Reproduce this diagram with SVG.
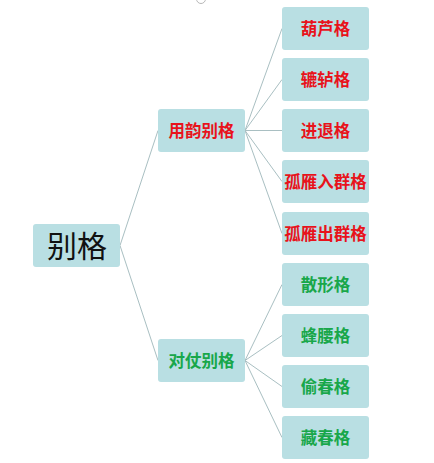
<svg xmlns="http://www.w3.org/2000/svg" width="434" height="463" viewBox="0 0 434 463">
<style>
.box{fill:#b9dfe3;}
.t{font-family:"Noto Sans CJK SC","Liberation Sans",sans-serif;font-size:16.5px;font-weight:bold;text-anchor:middle;dominant-baseline:central;}
.red{fill:#e8131b;}
.green{fill:#18a74a;}
.root{font-family:"Noto Sans CJK SC","Liberation Sans",sans-serif;font-size:30px;fill:#111;text-anchor:middle;dominant-baseline:central;}
.c{stroke:#a9bfc2;stroke-width:1;fill:none;}
</style>
<rect width="434" height="463" fill="#ffffff"/>
<circle cx="201" cy="-1" r="4.5" fill="none" stroke="#b8b8b8" stroke-width="1"/>
<g id="connectors">
<line class="c" x1="120" y1="245.5" x2="158" y2="130.5"/>
<line class="c" x1="120" y1="245.5" x2="158" y2="360.5"/>
<line class="c" x1="245" y1="130.5" x2="282" y2="28.5"/>
<line class="c" x1="245" y1="130.5" x2="282" y2="79.5"/>
<line class="c" x1="245" y1="130.5" x2="282" y2="130.5"/>
<line class="c" x1="245" y1="130.5" x2="282" y2="181.5"/>
<line class="c" x1="245" y1="130.5" x2="282" y2="233.5"/>
<line class="c" x1="245" y1="360.5" x2="282" y2="284.5"/>
<line class="c" x1="245" y1="360.5" x2="282" y2="335.5"/>
<line class="c" x1="245" y1="360.5" x2="282" y2="386.5"/>
<line class="c" x1="245" y1="360.5" x2="282" y2="437.5"/>
</g>
<g id="root"><rect class="box" x="33" y="224" width="87" height="43" rx="3"/><text class="root" x="77" y="244">别格</text></g>
<g id="yongyun"><rect class="box" x="158" y="109" width="87" height="43" rx="3"/><text class="t red" x="201.5" y="129.5">用韵别格</text></g>
<g id="duizhang"><rect class="box" x="158" y="339" width="87" height="43" rx="3"/><text class="t green" x="201.5" y="359.5">对仗别格</text></g>
<g id="hulu"><rect class="box" x="282" y="7" width="87" height="43" rx="3"/><text class="t red" x="325.5" y="27.5">葫芦格</text></g>
<g id="lulu"><rect class="box" x="282" y="58" width="87" height="43" rx="3"/><text class="t red" x="325.5" y="78.5">辘轳格</text></g>
<g id="jintui"><rect class="box" x="282" y="109" width="87" height="43" rx="3"/><text class="t red" x="325.5" y="129.5">进退格</text></g>
<g id="guyanru"><rect class="box" x="282" y="160" width="87" height="43" rx="3"/><text class="t red" x="325.5" y="180.5">孤雁入群格</text></g>
<g id="guyanchu"><rect class="box" x="282" y="212" width="87" height="43" rx="3"/><text class="t red" x="325.5" y="232.5">孤雁出群格</text></g>
<g id="sanxing"><rect class="box" x="282" y="263" width="87" height="43" rx="3"/><text class="t green" x="325.5" y="283.5">散形格</text></g>
<g id="fengyao"><rect class="box" x="282" y="314" width="87" height="43" rx="3"/><text class="t green" x="325.5" y="334.5">蜂腰格</text></g>
<g id="touchun"><rect class="box" x="282" y="365" width="87" height="43" rx="3"/><text class="t green" x="325.5" y="385.5">偷春格</text></g>
<g id="cangchun"><rect class="box" x="282" y="416" width="87" height="43" rx="3"/><text class="t green" x="325.5" y="436.5">藏春格</text></g>
</svg>
